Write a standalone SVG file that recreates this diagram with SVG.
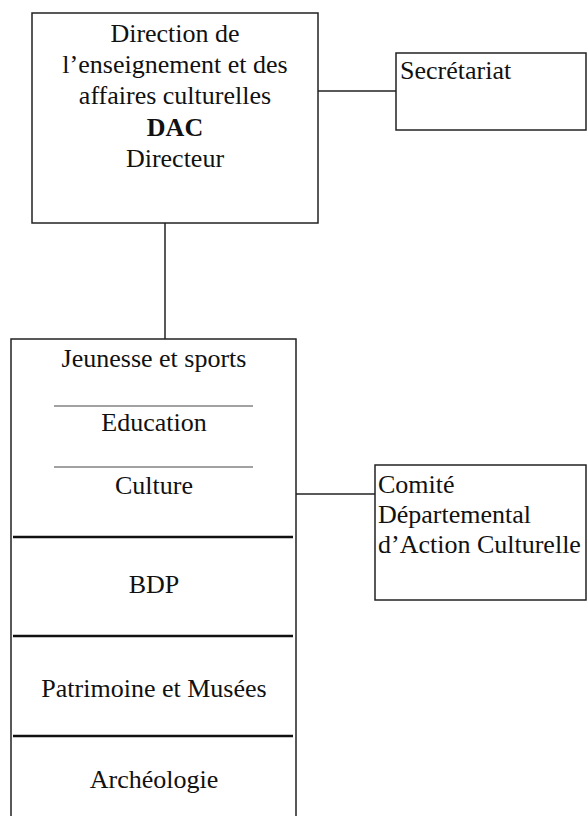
<svg xmlns="http://www.w3.org/2000/svg" width="587" height="816" viewBox="0 0 587 816">
<style>
.box{fill:#fff;stroke:#222;stroke-width:1.5}
.ln{stroke:#222;stroke-width:1.5;fill:none}
.thin{stroke:#444;stroke-width:1}
.thick{stroke:#111;stroke-width:2.6}
text{font-family:"Liberation Serif","Times New Roman",serif;font-size:26px;fill:#111}
.c{text-anchor:middle}
.b{font-weight:bold}
</style>
<rect width="587" height="816" fill="#fff"/>
<g id="connectors">
<line class="ln" x1="318" y1="91" x2="396" y2="91"/>
<line class="ln" x1="165" y1="223" x2="165" y2="339"/>
<line class="ln" x1="296" y1="494" x2="388" y2="494"/>
</g>
<g id="dac">
<rect class="box" x="32" y="13" width="286" height="210"/>
<text class="c" x="175" y="42">Direction de</text>
<text class="c" x="175" y="73">l’enseignement et des</text>
<text class="c" x="175" y="104">affaires culturelles</text>
<text class="c b" x="175" y="136">DAC</text>
<text class="c" x="175" y="167">Directeur</text>
</g>
<g id="secretariat">
<rect class="box" x="396" y="53" width="190" height="77"/>
<text x="400" y="79">Secrétariat</text>
</g>
<g id="services">
<path class="ln" d="M11,816 V339 H296 V816"/>
<text class="c" x="154" y="367">Jeunesse et sports</text>
<line class="thin" x1="54" y1="406" x2="253" y2="406"/>
<text class="c" x="154" y="431">Education</text>
<line class="thin" x1="54" y1="467" x2="253" y2="467"/>
<text class="c" x="154" y="494">Culture</text>
<line class="thick" x1="13" y1="537" x2="293" y2="537"/>
<text class="c" x="154" y="593">BDP</text>
<line class="thick" x1="13" y1="636" x2="293" y2="636"/>
<text class="c" x="154" y="697">Patrimoine et Musées</text>
<line class="thick" x1="13" y1="736" x2="293" y2="736"/>
<text class="c" x="154" y="788">Archéologie</text>
</g>
<g id="cdac">
<rect class="box" x="375" y="465" width="211" height="135"/>
<text x="378" y="493">Comité</text>
<text x="378" y="523">Départemental</text>
<text x="378" y="553">d’Action Culturelle</text>
</g>
</svg>
